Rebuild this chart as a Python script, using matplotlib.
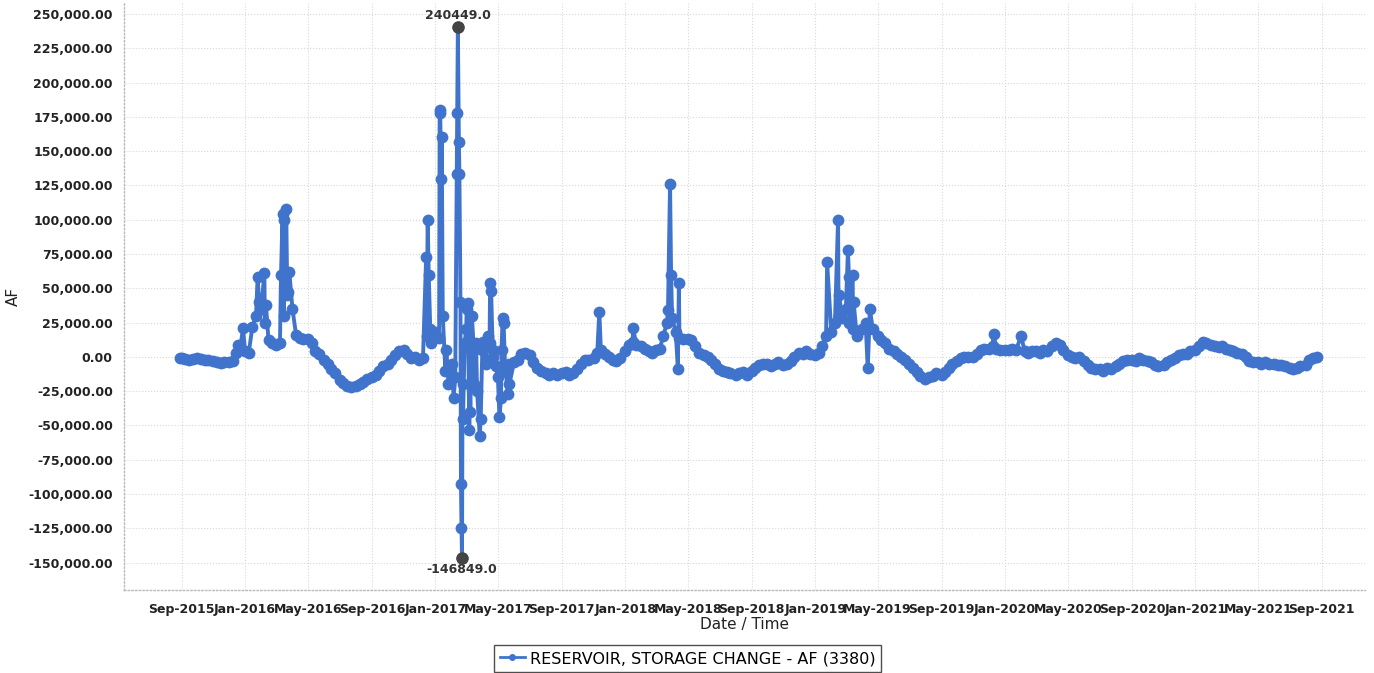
import numpy as np
import pandas as pd
import matplotlib
matplotlib.use("Agg")
import matplotlib.pyplot as plt
import matplotlib.dates as mdates
from matplotlib.ticker import FuncFormatter
from matplotlib.lines import Line2D

plt.rcParams['font.family'] = ['DejaVu Sans']

# Weekly storage change (thousand AF), four readings per month: days 1, 8, 15, 22
storage_2015 = [[-1, -1.5, -2, -1.5], [-1, -1.5, -2.5, -2], [-3, -4, -4.5, -4], [-3.5, -3, 3, 5]]
storage_2016 = [[4, 3, 22, 30], [35, 25, 12, 10], [9, 10, 30, 45], [35, 16, 14, 13],
                [13, 10, 4, 2], [-2, -5, -9, -12], [-17, -19, -21, -22], [-21, -20, -18, -16],
                [-15, -13, -10, -7], [-5, -2, 1, 4], [5, 2, -1, 0], [-2, -1, 15, 20]]
storage_2017 = [[18, 14, 22, 5], [-5, -15, 10, -20], [20, -20, 10, -25], [5, 0, 10, 0],
                [-15, 5, -10, -5], [-4, -2, 2, 3], [1, -4, -8, -10], [-12, -13, -12, -13],
                [-12, -11, -13, -12], [-9, -5, -2, -2], [-1, 3, 5, 2], [0, -2, -3, -1]]
storage_2018 = [[4, 9, 11, 9], [8, 6, 4, 3], [5, 6, 15, 25], [28, 18, 14, 13],
                [13, 12, 8, 3], [1, 0, -2, -5], [-9, -10, -11, -12], [-13, -12, -11, -13],
                [-10, -8, -6, -5], [-5, -7, -5, -4], [-6, -5, -3, 0], [3, 2, 4, 2]]
storage_2019 = [[1, 3, 8, 15], [18, 25, 30, 28], [35, 25, 20, 15], [20, 25, 20, 20],
                [15, 12, 10, 6], [4, 2, 0, -2], [-5, -8, -11, -14], [-16, -15, -14, -12],
                [-13, -11, -8, -5], [-3, -1, 0, 0], [0, 2, 5, 6], [6, 8, 6, 5]]
storage_2020 = [[5, 5, 6, 5], [6, 4, 3, 4], [4, 3, 5, 4], [8, 10, 9, 5],
                [1, 0, -1, 0], [-3, -6, -8, -9], [-9, -10, -8, -9], [-7, -5, -3, -2],
                [-2, -3, -1, -2], [-3, -4, -6, -7], [-6, -4, -2, -1], [1, 2, 2, 4]]
storage_2021 = [[5, 8, 11, 10], [9, 8, 7, 8], [6, 5, 4, 3], [2, 0, -3, -4],
                [-4, -5, -4, -5], [-5, -6, -6, -7], [-8, -9, -8, -7], [-6, -2, -1, 0]]

first_reading = ('2015-08-28', -1)

# Daily storm events (thousand AF)
event_dates = [
    '2015-12-18', '2015-12-28', '2016-01-25', '2016-01-28', '2016-02-07', '2016-02-10',
    '2016-03-10', '2016-03-13', '2016-03-16', '2016-03-20', '2016-03-23', '2016-03-26',
    '2016-12-14', '2016-12-17', '2016-12-19', '2016-12-23',
    '2017-01-09', '2017-01-10', '2017-01-12', '2017-01-13', '2017-01-15', '2017-01-20', '2017-01-26',
    '2017-02-05', '2017-02-11', '2017-02-12', '2017-02-13', '2017-02-15', '2017-02-16', '2017-02-18',
    '2017-02-19', '2017-02-20', '2017-02-21', '2017-02-23', '2017-02-26',
    '2017-03-02', '2017-03-04', '2017-03-07', '2017-03-09', '2017-03-12', '2017-03-16',
    '2017-03-20', '2017-03-27', '2017-03-29',
    '2017-04-03', '2017-04-08', '2017-04-12', '2017-04-16', '2017-04-18', '2017-04-21', '2017-04-27',
    '2017-05-04', '2017-05-07', '2017-05-10', '2017-05-12', '2017-05-16', '2017-05-20', '2017-05-23',
    '2017-11-12', '2018-01-16', '2018-03-24', '2018-03-28', '2018-03-30', '2018-04-12', '2018-04-14',
    '2019-01-24', '2019-02-14', '2019-02-16', '2019-03-05', '2019-03-07', '2019-03-14', '2019-03-16',
    '2019-04-12', '2019-04-16', '2019-12-10', '2020-02-01',
]
event_values = [
    9, 21, 58, 40, 61, 38,
    60, 104, 100, 108, 47, 62,
    73, 100, 60, 10,
    178, 180, 130, 160, 30, -10, -20,
    -30, 133, 178, 240.449, 157, 133, 40,
    -93, -125, -146.849, -45, 10,
    35, 39, -53, -40, 30, -20,
    10, -58, -45,
    11, -5, 15, 54, 48, 5, -7,
    -44, -30, 28, 25, -10, -27, -20,
    33, 21, 34, 126, 60, -9, 54,
    69, 100, 45, 78, 58, 60, 40,
    -8, 35, 17, 15,
]

# assemble the series
weekly = [v for year in (storage_2015, storage_2016, storage_2017, storage_2018,
                         storage_2019, storage_2020, storage_2021)
          for month in year for v in month]
months = pd.date_range('2015-09-01', '2021-08-01', freq='MS')
weekly_dates = [m + pd.Timedelta(days=d) for m in months for d in (0, 7, 14, 21)]

base = pd.Series(weekly, index=pd.DatetimeIndex(weekly_dates))
base.loc[pd.Timestamp(first_reading[0])] = first_reading[1]
events = pd.Series(event_values, index=pd.to_datetime(event_dates))
series = pd.concat([base, events])
series = series[~series.index.duplicated(keep='last')].sort_index()
series = (series * 1000).round(1)

blue = '#4074cc'

fig = plt.figure(figsize=(13.74, 6.73), dpi=100)
ax = fig.add_axes([0.0902, 0.1233, 0.9032, 0.8722])

ax.plot(series.index, series.values, color=blue, lw=2.8, marker='o', ms=8.5,
        markeredgewidth=0, zorder=3, solid_joinstyle='round')

# highlight extremes
imax = series.idxmax()
imin = series.idxmin()
ax.plot([imax, imin], [series[imax], series[imin]], 'o', color='#444444', ms=8, zorder=4)
ax.text(imax, series[imax] + 3500, f"{series[imax]:.1f}", ha='center', va='bottom',
        fontsize=9, fontweight='bold', color='#333333')
ax.text(imin, series[imin] - 3500, f"{series[imin]:.1f}", ha='center', va='top',
        fontsize=9, fontweight='bold', color='#333333')

ax.set_ylim(-170000, 258000)
ax.set_xlim(pd.Timestamp('2015-05-13'), pd.Timestamp('2021-11-23'))

ax.set_yticks(np.arange(-150000, 250001, 25000))
ax.yaxis.set_major_formatter(FuncFormatter(lambda v, p: f"{v:,.2f}"))
ax.set_xticks(pd.date_range('2015-09-01', '2021-09-01', freq='4MS'))
ax.xaxis.set_major_formatter(mdates.DateFormatter('%b-%Y'))

for lbl in ax.get_xticklabels() + ax.get_yticklabels():
    lbl.set_fontweight('bold')
    lbl.set_fontsize(9)
    lbl.set_color('#222222')
ax.tick_params(axis='both', length=0)
ax.tick_params(axis='y', pad=8)
ax.tick_params(axis='x', pad=9)

ax.grid(True, color='#d8d8d8', linestyle=':', linewidth=0.8)
for side in ('top', 'right'):
    ax.spines[side].set_visible(False)
for side in ('left', 'bottom'):
    ax.spines[side].set_color('#bbbbbb')
    ax.spines[side].set_linestyle(':')
    ax.spines[side].set_linewidth(1.0)

ax.set_xlabel('Date / Time', fontsize=11, color='#222222', labelpad=1)
ax.set_ylabel('AF', fontsize=11, color='#222222', labelpad=5)

handle = Line2D([], [], color=blue, lw=2, marker='o', ms=4)
leg = fig.legend([handle], ['RESERVOIR, STORAGE CHANGE - AF (3380)'], loc='center',
                 bbox_to_anchor=(0.5005, 0.0215), frameon=True, fancybox=False,
                 fontsize=11.5, handlelength=1.6, handletextpad=0.3, borderpad=0.35)
leg.get_frame().set_edgecolor('#222222')
leg.get_frame().set_linewidth(1.0)

fig.savefig('out.png', dpi=100)
